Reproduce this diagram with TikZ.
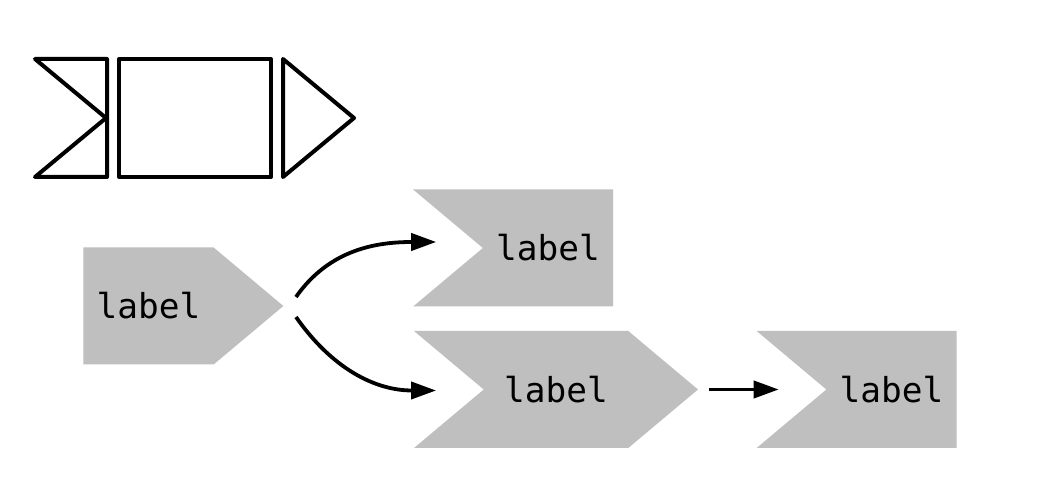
\documentclass[tikz,border=0pt]{standalone}
\usepackage{fontspec}
\setmonofont{DejaVu Sans Mono}
\usepackage{tikz}
\usetikzlibrary{arrows.meta,shapes.symbols}
\usepackage{xcolor}
\definecolor{sigfill}{rgb}{0.75,0.75,0.75}
\definecolor{sigline}{rgb}{0,0,0}

\tikzset{
  sig/.style={signal,fill=sigfill,minimum height=58.5pt,minimum width=100pt,
    signal pointer angle=80,inner xsep=4pt,
    font=\ttfamily\fontsize{17.2}{20}\selectfont},
  arr/.style={sigline,line width=1.9pt,-{Triangle[length=12.5pt,width=8.5pt]}}
}

\begin{document}
\begin{tikzpicture}[x=0.5pt,y=-0.5pt,line join=round]
  \useasboundingbox (0,0) rectangle (1062,496);
  % the parts of a signal
  \draw[line width=2pt] (35,59)--(107,59)--(107,177)--(35,177)--(106,118)--cycle;
  \draw[line width=2pt] (119,59) rectangle (271,177);
  \draw[line width=2pt] (283,59)--(354,118)--(283,177)--cycle;
  % signals
  \node[sig,signal to=east] (s0) at (148.5,306) {label};
  \node[sig,signal from=west,signal to=nowhere] (s1) at (548,248) {label};
  \node[sig,signal from=west,signal to=east,minimum width=142pt] (s2) at (556,389.5) {label};
  \node[sig,signal from=west,signal to=nowhere] (s3) at (891.5,389.5) {label};
  \draw[arr] ([shift={(12,-9)}]s0.east) to[out=55,in=180] ([shift={(-46,-6)}]s1.west);
  \draw[arr] ([shift={(12,11)}]s0.east) to[out=-55,in=180] ([shift={(-47,1)}]s2.west);
  \draw[arr] ([shift={(10,0)}]s2.east) -- ([shift={(-47,0)}]s3.west);
\end{tikzpicture}
\end{document}
